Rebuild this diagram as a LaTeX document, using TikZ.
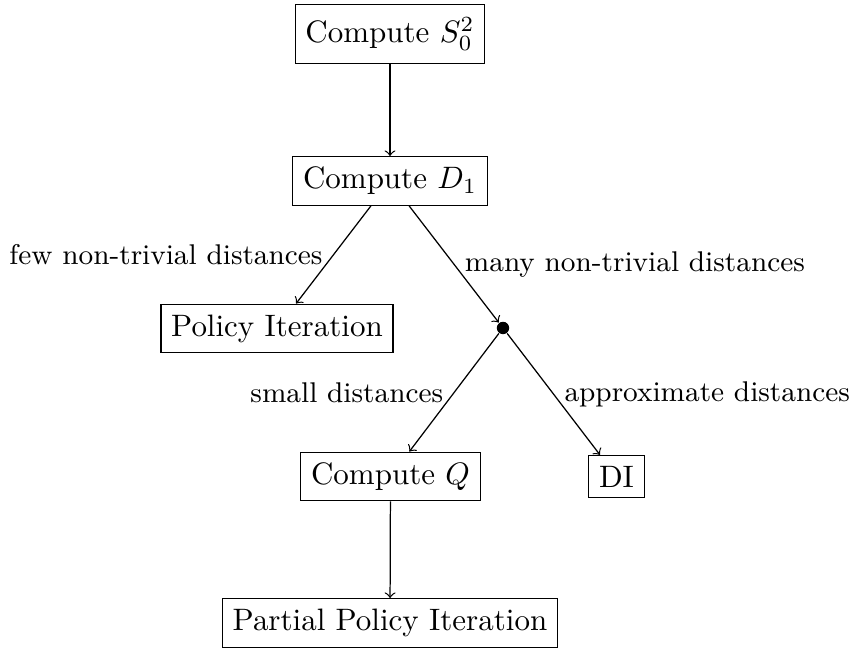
\documentclass[tikz,border=0pt]{standalone}
\begin{document}
\begin{tikzpicture}[
  x=0.32258pt, y=-0.32258pt,
  box/.style={draw},
  branch/.style={circle, fill, inner sep=0pt, minimum size=4pt},
  flow/.style={->},
  cond/.style={font=\fontsize{9.2}{11}\selectfont},
]
\useasboundingbox (0,0) rectangle (851,648);

% decision tree
\node[box, minimum height=19pt] (s0) at (390,34) {Compute $S_0^2$};
\node[box] (d1) at (390,181) {Compute $D_1$};
\node[box] (pi) at (277,328.5) {Policy Iteration};
\node[branch] (br) at (503,328) {};
\node[box] (cq) at (390.5,476.5) {Compute $Q$};
\node[box] (di) at (616.5,476.5) {DI};
\node[box] (ppi) at (390,623) {Partial Policy Iteration};

\draw[flow] (s0) -- (d1);
\draw[flow] (d1) -- node[midway, left, cond] {few non-trivial distances} (pi);
\draw[flow] (d1) -- node[midway, right, cond] {many non-trivial distances} (br);
\draw[flow] (br) -- node[midway, left, cond] {small distances} (cq);
\draw[flow] (br) -- node[midway, right, cond] {approximate distances} (di);
\draw[flow] (cq) -- (ppi);
\end{tikzpicture}
\end{document}
